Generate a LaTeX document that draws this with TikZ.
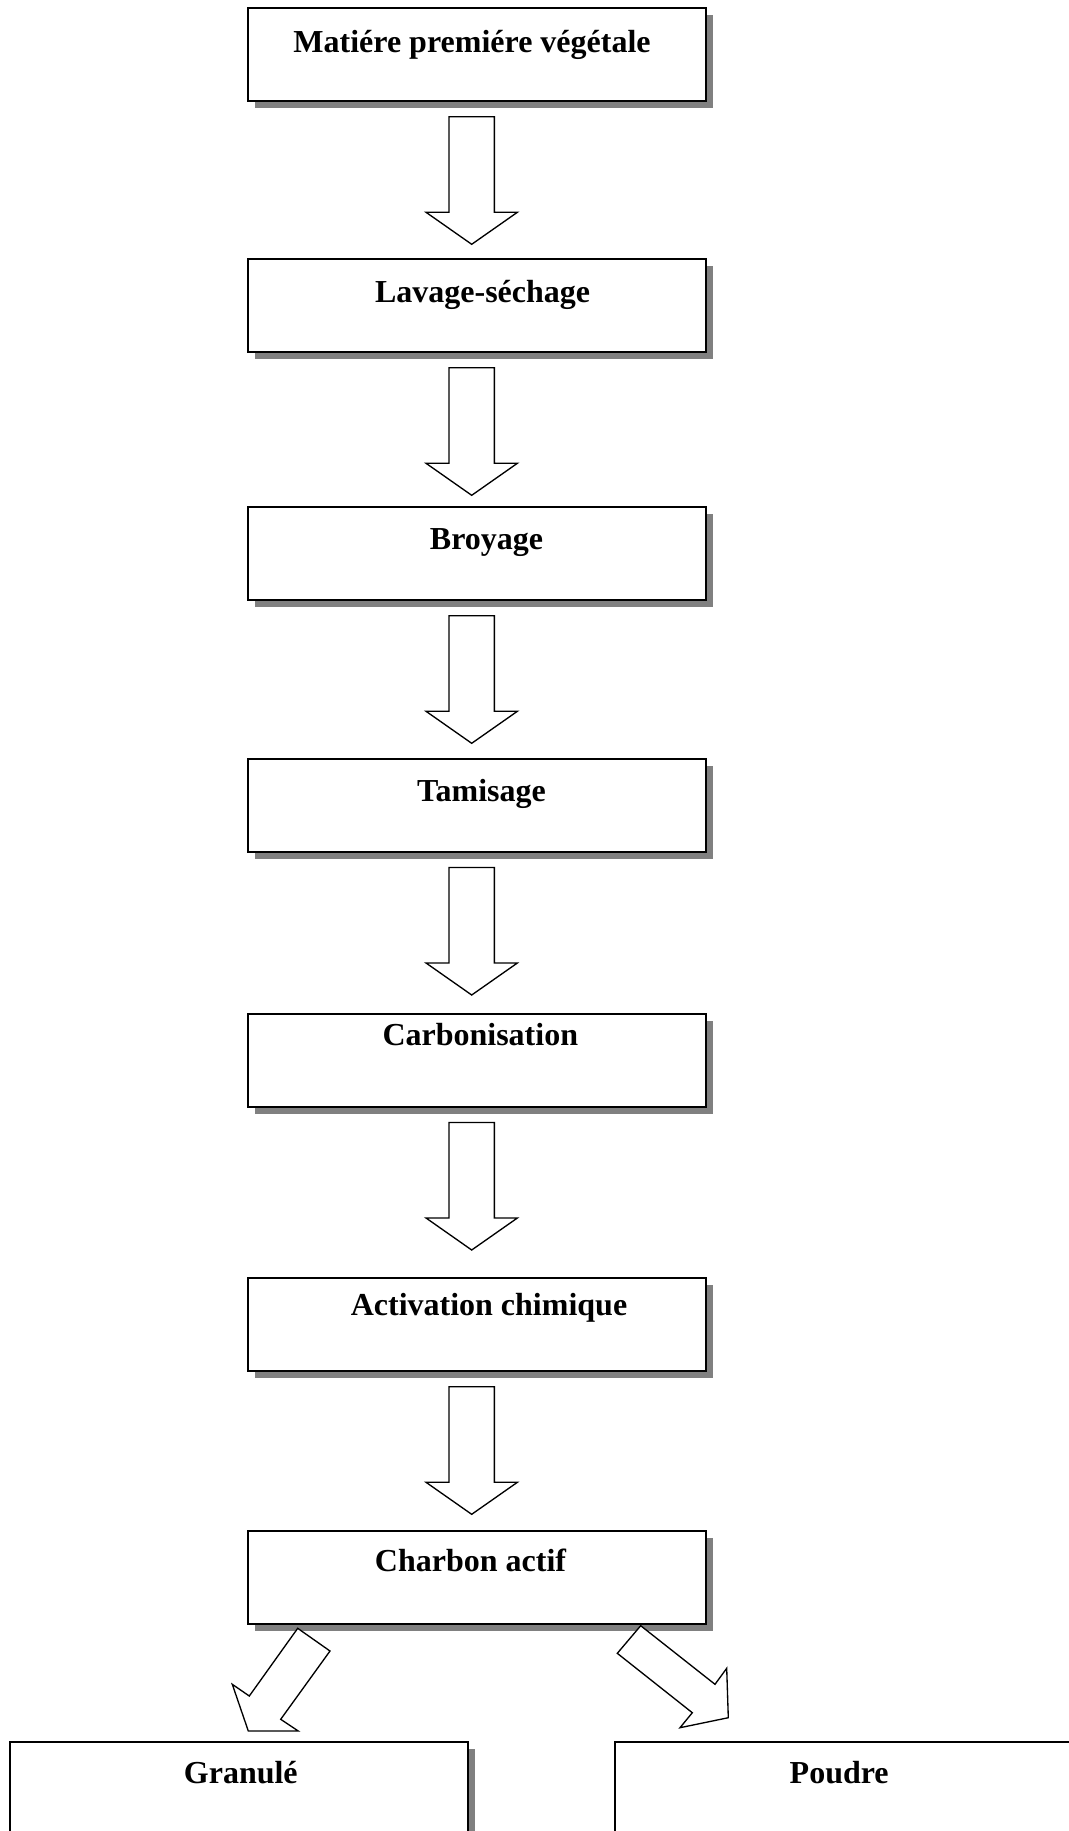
\documentclass[tikz,border=0pt]{standalone}
\usepackage{fontspec}
\setmainfont{Liberation Serif}
\usetikzlibrary{shadows}
\definecolor{shadowgray}{RGB}{128,128,128}
\newcommand{\blockdown}[1]{%
  \draw[blockarrow] ([shift={(-27.95,15.5)}]#1.south) -- ([shift={(17.35,15.5)}]#1.south)
    -- ([shift={(17.35,111)}]#1.south) -- ([shift={(40.35,111)}]#1.south)
    -- ([shift={(-5.3,143)}]#1.south) -- ([shift={(-50.95,111)}]#1.south)
    -- ([shift={(-27.95,111)}]#1.south) -- cycle;}
\begin{document}
\begin{tikzpicture}[x=0.75pt,y=-0.75pt,
  box/.style={draw=black, line width=1.5pt, fill=white,
    minimum width=343.5pt, minimum height=69.75pt, inner sep=0pt, outer sep=0pt,
    drop shadow={shadow xshift=5.25pt, shadow yshift=-5.25pt, fill=shadowgray, opacity=1}},
  lbl/.style={font=\fontsize{24}{28}\selectfont\bfseries, anchor=base, inner sep=0pt},
  blockarrow/.style={draw=black, line width=1pt, fill=white, line join=miter}]
\useasboundingbox (0,0) rectangle (1068,1831);

% process boxes
\node[box] (b1) at (477,54.8) {};
\node[box] (b2) at (477,305.8) {};
\node[box] (b3) at (477,553.8) {};
\node[box] (b4) at (477,805.5) {};
\node[box] (b5) at (477,1060.5) {};
\node[box] (b6) at (477,1324.8) {};
\node[box] (b7) at (477,1577.2) {};
\node[box] (bg) at (239,1788.2) {};
\node[box, minimum width=390pt] (bp) at (875,1788.2) {};

% labels
\node[lbl] (t1) at (472,52.3) {Matiére premiére végétale};
\node[lbl] (t2) at (482.6,302.5) {Lavage-séchage};
\node[lbl] (t3) at (486.5,549.3) {Broyage};
\node[lbl] (t4) at (481.5,801.5) {Tamisage};
\node[lbl] (t5) at (480.3,1045.7) {Carbonisation};
\node[lbl] (t6) at (489,1315) {Activation chimique};
\node[lbl] (t7) at (470.5,1571.7) {Charbon actif};
\node[lbl] (tg) at (240.8,1783.3) {Granulé};
\node[lbl] (tp) at (839.2,1783.3) {Poudre};

% vertical block arrows
\blockdown{b1}
\blockdown{b2}
\blockdown{b3}
\blockdown{b4}
\blockdown{b5}
\blockdown{b6}

% diagonal block arrows
\draw[blockarrow] ([shift={(49.7,4.6)}]b7.south west) -- ([shift={(82,27.3)}]b7.south west)
  -- ([shift={(32.7,95.6)}]b7.south west) -- ([shift={(50.3,107.3)}]b7.south west)
  -- ([shift={(0.3,107.3)}]b7.south west) -- ([shift={(-15.7,60.6)}]b7.south west)
  -- ([shift={(1.3,72.3)}]b7.south west) -- cycle;
\draw[blockarrow] ([shift={(-65.3,2)}]b7.south east) -- ([shift={(-88.7,29.6)}]b7.south east)
  -- ([shift={(-13.7,89)}]b7.south east) -- ([shift={(-26,104)}]b7.south east)
  -- ([shift={(22.3,94)}]b7.south east) -- ([shift={(20.7,44.6)}]b7.south east)
  -- ([shift={(9,60.6)}]b7.south east) -- cycle;
\end{tikzpicture}
\end{document}
